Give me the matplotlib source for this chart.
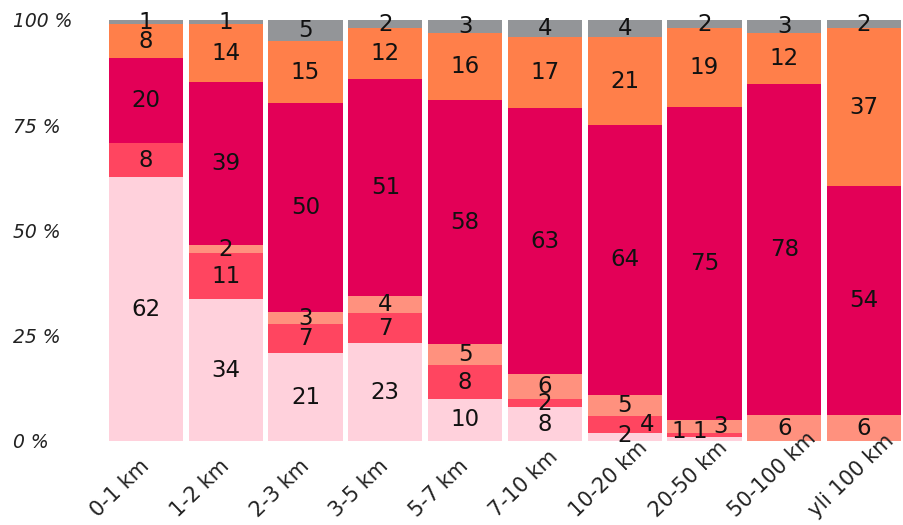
import numpy as np
import matplotlib.pyplot as plt

categories = ["0-1 km", "1-2 km", "2-3 km", "3-5 km", "5-7 km",
              "7-10 km", "10-20 km", "20-50 km", "50-100 km", "yli 100 km"]

# stacked from bottom to top
walk = [62, 34, 21, 23, 10, 8, 2, 1, 0, 0]
bike = [8, 11, 7, 7, 8, 2, 4, 1, 0, 0]
other_light = [0, 2, 3, 4, 5, 6, 5, 3, 6, 6]
car = [20, 39, 50, 51, 58, 63, 64, 75, 78, 54]
transit = [8, 14, 15, 12, 16, 17, 21, 19, 12, 37]
unknown = [1, 1, 5, 2, 3, 4, 4, 2, 3, 2]

series = [walk, bike, other_light, car, transit, unknown]
colors = ["#FFD1DC", "#FF4560", "#FF917E", "#E30057", "#FF7F4A", "#939598"]

plt.rcParams['font.family'] = ['DejaVu Sans']

data = np.array(series, dtype=float)
pct = data / data.sum(axis=0) * 100

fig = plt.figure(figsize=(9.04, 5.25), dpi=100)
ax = fig.add_axes([0.1173, 0.16, 0.8827, 0.802])

x = np.arange(len(categories))
bottom = np.zeros(len(categories))
# small nudges for crowded labels
label_dx = {(6, 1): 0.28, (7, 0): -0.32, (7, 1): -0.06, (7, 2): 0.2}
label_dy = {(7, 0): 1.8, (7, 1): 0.8, (6, 0): 0.3}
for i, (vals, col) in enumerate(zip(pct, colors)):
    ax.bar(x, vals, bottom=bottom, width=0.93, color=col, linewidth=0)
    for j, v in enumerate(vals):
        if data[i, j] > 0:
            ax.text(x[j] + label_dx.get((j, i), 0), bottom[j] + v / 2 + label_dy.get((j, i), 0),
                    f"{int(data[i, j])}", ha="center", va="center",
                    fontsize=16.5, color="#111111")
    bottom += vals

ax.set_xlim(-0.5, len(categories) - 0.5)
ax.set_ylim(0, 100)
ax.set_yticks([0, 25, 50, 75, 100])
ax.set_yticklabels(["0 %", "25 %", "50 %", "75 %", "100 %"],
                   fontsize=13.5, fontstyle="italic", color="#222222", ha="left")
ax.tick_params(axis="y", length=0, pad=67)
ax.set_xticks([])

# rotated category labels, anchored at their lower-left start
trans = ax.get_xaxis_transform()
for j, cat in enumerate(categories):
    ax.text(x[j] - 0.6, -0.183, cat, transform=trans, rotation=44,
            rotation_mode="anchor", ha="left", va="baseline",
            fontsize=15, color="#222222")

for s in ax.spines.values():
    s.set_visible(False)

fig.savefig("out.png", dpi=100)
